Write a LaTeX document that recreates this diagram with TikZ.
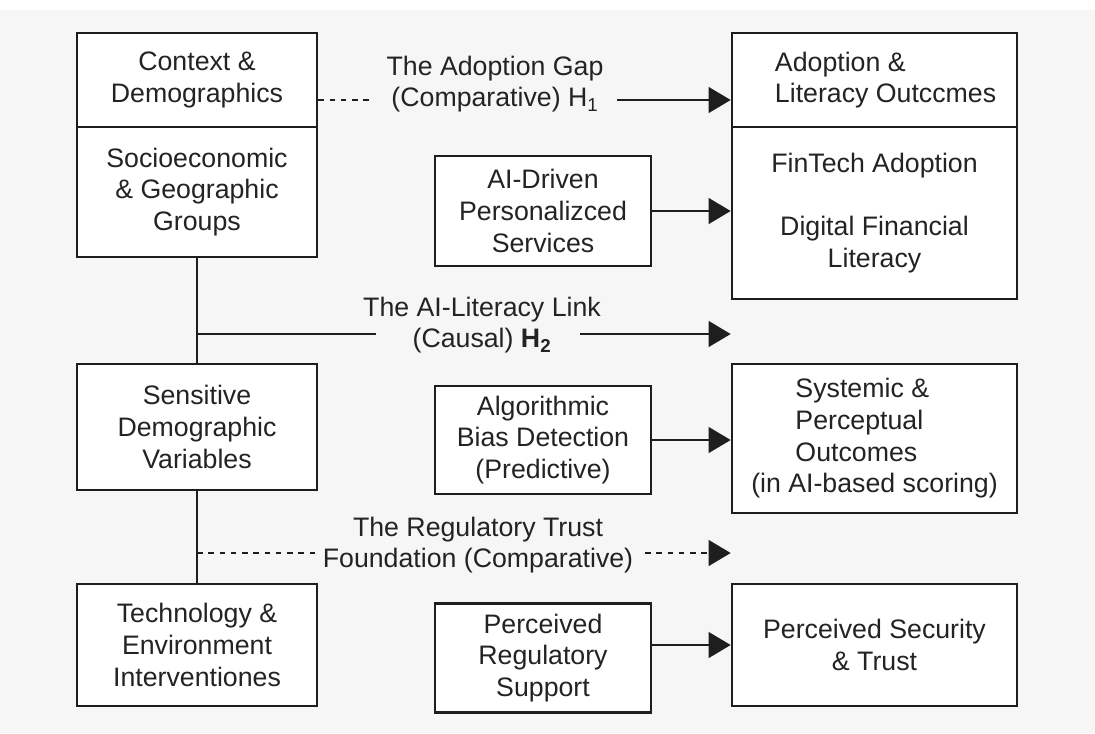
\documentclass[tikz,border=0pt]{standalone}
\usepackage{fontspec}
\setmainfont{Liberation Sans}
\usepackage{tikz}
\usetikzlibrary{arrows.meta}

\definecolor{bgcol}{RGB}{246,246,246}
\definecolor{ink}{RGB}{30,30,30}
\definecolor{txt}{RGB}{35,35,35}

\tikzset{
    box/.style={draw=ink, line width=1.8pt, fill=white, align=center, inner sep=0pt, text=txt},
    link/.style={draw=ink, line width=1.6pt},
    arr/.style={link, -{Triangle[length=0.55cm,width=0.64cm]}},
    dots/.style={link, dash pattern=on 4pt off 4pt},
    lbl/.style={align=center, inner sep=0pt, text=txt}
}
\newcommand{\lft}[2]{\makebox[#1][l]{#2}}

\begin{document}
\begin{tikzpicture}[x=0.025cm, y=-0.025cm, font=\fontsize{19pt}{22.5pt}\selectfont]
            \fill[bgcol] (0,0) rectangle (1095,733);
            \fill[white] (0,0) rectangle (1095,10);
            \useasboundingbox (0,0) rectangle (1095,733);

            % left column
            \node[box, minimum width=6cm, minimum height=2.35cm] (l1) at (197,80) {Context \&\\Demographics};
            \node[box, minimum width=6cm, minimum height=3.25cm] (l2) at (197,192) {Socioeconomic\\\& Geographic\\Groups};
            \node[box, minimum width=6cm, minimum height=3.15cm] (l3) at (197,427) {Sensitive\\Demographic\\Variables};
            \node[box, minimum width=6cm, minimum height=3.05cm] (l4) at (197,645) {Technology \&\\Environment\\Interventiones};
            \draw[link] (l2.south) -- (l3.north);
            \draw[link] (l3.south) -- (l4.north);

            % middle column
            \node[box, minimum width=5.4cm, minimum height=2.75cm] (m1) at (543,211) {AI-Driven\\Personalizced\\Services};
            \node[box, minimum width=5.4cm, minimum height=2.7cm] (m2) at (543,440) {Algorithmic\\Bias Detection\\(Predictive)};
            \node[box, minimum width=5.4cm, minimum height=2.725cm] (m3) at (543,658) {Perceived\\Regulatory\\Support};

            % right column
            \node[box, minimum width=7.125cm, minimum height=2.35cm] (r1) at (874.5,80) {\lft{4.975cm}{Adoption \&}\\\lft{4.975cm}{Literacy Outccmes}};
            \node[box, minimum width=7.125cm, minimum height=4.3cm] (r2) at (874.5,213) {FinTech Adoption\\[0.8cm]Digital Financial\\Literacy};
            \node[box, minimum width=7.125cm, minimum height=3.725cm] (r3) at (874.5,438.5) {\lft{3.95cm}{Systemic \&}\\\lft{3.95cm}{Perceptual}\\\lft{3.95cm}{Outcomes}\\(in AI-based scoring)};
            \node[box, minimum width=7.125cm, minimum height=3.05cm] (r4) at (874.5,645) {Perceived Security\\\& Trust};

            \draw[arr] (m1.east) -- (m1.east -| r2.west);
            \draw[arr] (m2.east) -- (m2.east -| r3.west);
            \draw[arr] (m3.east |- r4) -- (r4.west);

            % hypotheses
            \node[lbl] (h1) at (495,84) {The Adoption Gap\\(Comparative) H\textsubscript{1}};
            \coordinate (h1a) at (372,100);
            \coordinate (h1b) at (617,100);
            \draw[dots] (l1.east |- h1a) -- (h1a);
            \draw[arr] (h1b) -- (r1.west |- h1b);

            \node[lbl] (h2) at (482,325) {The AI-Literacy Link\\(Causal) \textbf{H\textsubscript{2}}};
            \coordinate (h2a) at (376,334);
            \coordinate (h2b) at (580,334);
            \draw[link] (l2 |- h2a) -- (h2a);
            \draw[arr] (h2b) -- (r2.west |- h2b);

            \node[lbl] (h3) at (478,545) {The Regulatory Trust\\Foundation (Comparative)};
            \coordinate (h3a) at (316,553);
            \coordinate (h3b) at (645,553);
            \draw[dots] (l3 |- h3a) -- (h3a);
            \draw[arr, dash pattern=on 4pt off 4pt] (h3b) -- (r4.west |- h3b);
\end{tikzpicture}
\end{document}
